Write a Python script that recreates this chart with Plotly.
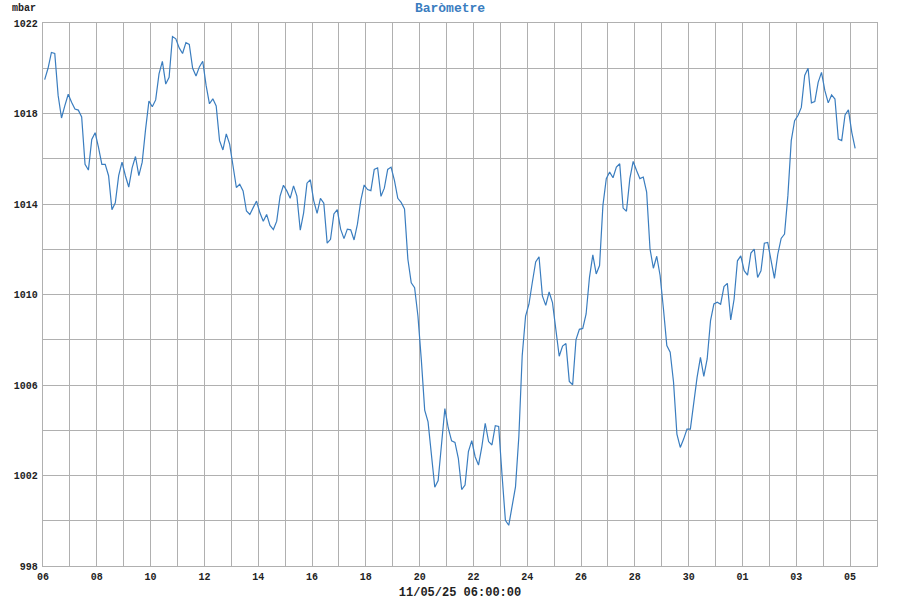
import pandas as pd
import plotly.graph_objects as go

# barometer readings (mbar), every 3 hours from 6 Oct 2025
pressure = [
    1019.5, 1020.0, 1020.7, 1020.65, 1018.8, 1017.8, 1018.35, 1018.85, 1018.5, 1018.2,
    1018.15, 1017.85, 1015.75, 1015.5, 1016.85, 1017.15, 1016.5, 1015.75, 1015.75, 1015.25,
    1013.75, 1014.05, 1015.25, 1015.85, 1015.25, 1014.75, 1015.6, 1016.1, 1015.25, 1015.85,
    1017.3, 1018.55, 1018.3, 1018.6, 1019.75, 1020.3, 1019.3, 1019.6, 1021.4, 1021.3,
    1020.9, 1020.65, 1021.13, 1021.05, 1020.0, 1019.66, 1020.06, 1020.31, 1019.24, 1018.43,
    1018.65, 1018.33, 1016.8, 1016.39, 1017.1, 1016.65, 1015.69, 1014.73, 1014.87, 1014.58,
    1013.69, 1013.54, 1013.84, 1014.13, 1013.61, 1013.24, 1013.54, 1013.05, 1012.87, 1013.24,
    1014.35, 1014.83, 1014.58, 1014.25, 1014.8, 1014.35, 1012.84, 1013.61, 1014.92, 1015.07,
    1014.15, 1013.59, 1014.25, 1014.04, 1012.27, 1012.44, 1013.56, 1013.75, 1012.89, 1012.47,
    1012.89, 1012.86, 1012.41, 1013.11, 1014.15, 1014.84, 1014.64, 1014.59, 1015.53, 1015.6,
    1014.34, 1014.7, 1015.53, 1015.63, 1015.04, 1014.25, 1014.07, 1013.78, 1011.56, 1010.52,
    1010.3, 1009.04, 1007.11, 1004.89, 1004.37, 1003.04, 1001.48, 1001.78, 1003.56, 1004.96,
    1004.1, 1003.53, 1003.46, 1002.76, 1001.38, 1001.58, 1003.06, 1003.54, 1002.83, 1002.46,
    1003.28, 1004.31, 1003.5, 1003.35, 1004.2, 1004.17, 1002.02, 1000.02, 999.8, 1000.69,
    1001.5, 1003.72, 1007.3, 1009.05, 1009.57, 1010.53, 1011.44, 1011.67, 1009.94, 1009.52,
    1010.11, 1009.64, 1008.46, 1007.27, 1007.72, 1007.83, 1006.16, 1006.01, 1008.01, 1008.46,
    1008.5, 1009.14, 1010.76, 1011.75, 1010.91, 1011.28, 1013.94, 1015.12, 1015.41, 1015.16,
    1015.63, 1015.78, 1013.82, 1013.68, 1015.12, 1015.88, 1015.48, 1015.12, 1015.19, 1014.53,
    1012.02, 1011.16, 1011.69, 1010.84, 1009.36, 1007.74, 1007.45, 1006.12, 1003.83, 1003.24,
    1003.61, 1004.05, 1004.05, 1005.23, 1006.34, 1007.22, 1006.38, 1007.15, 1008.85, 1009.58,
    1009.66, 1009.57, 1010.35, 1010.49, 1008.88, 1009.79, 1011.49, 1011.71, 1011.05, 1010.86,
    1011.83, 1012.01, 1010.75, 1011.05, 1012.27, 1012.3, 1011.56, 1010.71, 1011.78, 1012.48,
    1012.67, 1014.37, 1016.8, 1017.68, 1017.91, 1018.27, 1019.68, 1020.0, 1018.47, 1018.53,
    1019.38, 1019.82, 1019.01, 1018.47, 1018.82, 1018.64, 1016.87, 1016.8, 1017.94, 1018.16,
    1017.17, 1016.46,
]
times = pd.date_range("2025-10-06 01:30", periods=len(pressure), freq="3h")

title = "Baròmetre"
unit = "mbar"
stamp = "11/05/25 06:00:00"

grid = "#b0b0b0"
mono = dict(family="Liberation Mono, Courier New, monospace", size=10, color="#222222", weight="bold")
day = 86400000

fig = go.Figure()
fig.add_trace(go.Scatter(x=times, y=pressure, mode="lines",
                         line=dict(color="#3a7dbf", width=1.2), showlegend=False))

fig.update_layout(
    width=900, height=600,
    margin=dict(l=43, r=23, t=23, b=34, autoexpand=False),
    paper_bgcolor="white", plot_bgcolor="white",
    font=mono,
    title=dict(text=title, x=0.5, xanchor="center", y=0.987, yanchor="middle",
               font=dict(family="Liberation Mono, Courier New, monospace", size=13,
                         color="#3a7dbf", weight="bold")),
)
fig.add_annotation(text=unit, xref="paper", yref="paper", x=-0.04, y=1.027,
                   xanchor="left", yanchor="middle", showarrow=False, font=mono)

fig.update_xaxes(
    range=["2025-10-06", "2025-11-06"], tick0="2025-10-06", dtick=2 * day,
    tickformat="%d", ticks="", showgrid=True, gridcolor=grid, gridwidth=1.3,
    minor=dict(dtick=day, showgrid=True, gridcolor=grid, gridwidth=1.3),
    showline=True, mirror=True, linecolor=grid, linewidth=1.3,
    title=dict(text=stamp, standoff=6), zeroline=False, automargin=False,
    ticklabelstandoff=1,
)
fig.update_yaxes(
    range=[998, 1022], dtick=4, tick0=998, ticks="", showgrid=True,
    gridcolor=grid, gridwidth=1.3,
    minor=dict(dtick=2, showgrid=True, gridcolor=grid, gridwidth=1.3),
    showline=True, mirror=True, linecolor=grid, linewidth=1.3,
    zeroline=False, ticklabelstandoff=2, automargin=False,
)

# page body has a default 8px margin; drop it so the chart sits at the window origin
fig.write_html("out.html", config={"displayModeBar": False},
               post_script="document.body.style.margin='0';")
